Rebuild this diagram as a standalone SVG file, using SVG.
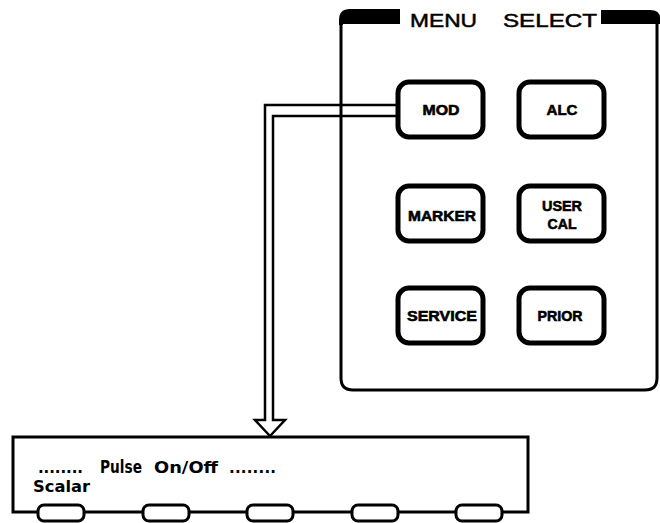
<svg xmlns="http://www.w3.org/2000/svg" width="660" height="523" viewBox="0 0 660 523">
<style>
.btn{fill:#fff;stroke:#000;stroke-width:5}
.bt{font-family:"Liberation Sans",Arial,sans-serif;font-weight:bold;font-size:15px;fill:#000;stroke:#000;stroke-width:0.6;text-anchor:middle}
.line{fill:none;stroke:#000;stroke-width:3}
.key{fill:#fff;stroke:#000;stroke-width:3}
.dt{font-family:"DejaVu Sans","Liberation Sans",sans-serif;font-weight:bold;font-size:15px;fill:#000}
.hd{font-family:"Liberation Sans",Arial,sans-serif;font-size:19px;fill:#000;stroke:#000;stroke-width:0.5}
</style>
<rect width="660" height="523" fill="#fff"/>
<g id="connectors">
<path d="M397,105 L265,105 L265,420 L255,420 L270,436 L285,420 L273,420 L273,116 L397,116" fill="none" stroke="#000" stroke-width="2.5" stroke-linejoin="miter"/>
</g>
<g id="menu-select-panel">
<path d="M341,22 L341,378 Q341,390 353,390 L645,390 Q657,390 657,378 L657,22" class="line"/>
<path d="M339,25 L339,20 Q339,9 350,9 L400,9 L400,24 L343,24 L343,25 Z" fill="#000"/>
<path d="M601,10 L650,10 Q660,10 660,18 L660,24 L601,24 Z" fill="#000"/>
<text class="hd" y="27"><tspan x="410" textLength="67" lengthAdjust="spacingAndGlyphs">MENU</tspan><tspan x="503" textLength="94" lengthAdjust="spacingAndGlyphs">SELECT</tspan></text>
</g>
<g id="btn-mod">
<rect class="btn" x="398" y="82" width="85" height="55" rx="11"/>
<text class="bt" x="441" y="115" textLength="37" lengthAdjust="spacingAndGlyphs">MOD</text>
</g>
<g id="btn-alc">
<rect class="btn" x="519" y="82" width="85" height="55" rx="11"/>
<text class="bt" x="562" y="115" textLength="31" lengthAdjust="spacingAndGlyphs">ALC</text>
</g>
<g id="btn-marker">
<rect class="btn" x="398" y="186" width="85" height="55" rx="11"/>
<text class="bt" x="442" y="221" textLength="68" lengthAdjust="spacingAndGlyphs">MARKER</text>
</g>
<g id="btn-usercal">
<rect class="btn" x="519" y="186" width="85" height="55" rx="11"/>
<text class="bt" x="562" y="211" textLength="40" lengthAdjust="spacingAndGlyphs">USER</text>
<text class="bt" x="562" y="229" textLength="29" lengthAdjust="spacingAndGlyphs">CAL</text>
</g>
<g id="btn-service">
<rect class="btn" x="398" y="288" width="85" height="55" rx="11"/>
<text class="bt" x="442" y="321" textLength="70" lengthAdjust="spacingAndGlyphs">SERVICE</text>
</g>
<g id="btn-prior">
<rect class="btn" x="519" y="288" width="85" height="55" rx="11"/>
<text class="bt" x="560" y="321" textLength="45" lengthAdjust="spacingAndGlyphs">PRIOR</text>
</g>
<g id="display">
<path d="M13,512 L13,437 L528,437 L528,512 Z" class="line"/>
<rect class="key" x="38" y="505" width="46" height="16" rx="6"/>
<rect class="key" x="143" y="505" width="46" height="16" rx="6"/>
<rect class="key" x="247" y="505" width="46" height="16" rx="6"/>
<rect class="key" x="352" y="505" width="46" height="16" rx="6"/>
<rect class="key" x="456" y="505" width="46" height="16" rx="6"/>
<text class="dt" x="38" y="473" textLength="45" lengthAdjust="spacing">........</text>
<text class="dt" x="100" y="473" style="font-size:17px" textLength="42" lengthAdjust="spacingAndGlyphs">Pulse</text>
<text class="dt" x="154" y="473" textLength="64" lengthAdjust="spacingAndGlyphs">On/Off</text>
<text class="dt" x="229" y="473" textLength="47" lengthAdjust="spacing">........</text>
<text class="dt" x="33" y="492" textLength="57" lengthAdjust="spacingAndGlyphs">Scalar</text>
</g>
</svg>
